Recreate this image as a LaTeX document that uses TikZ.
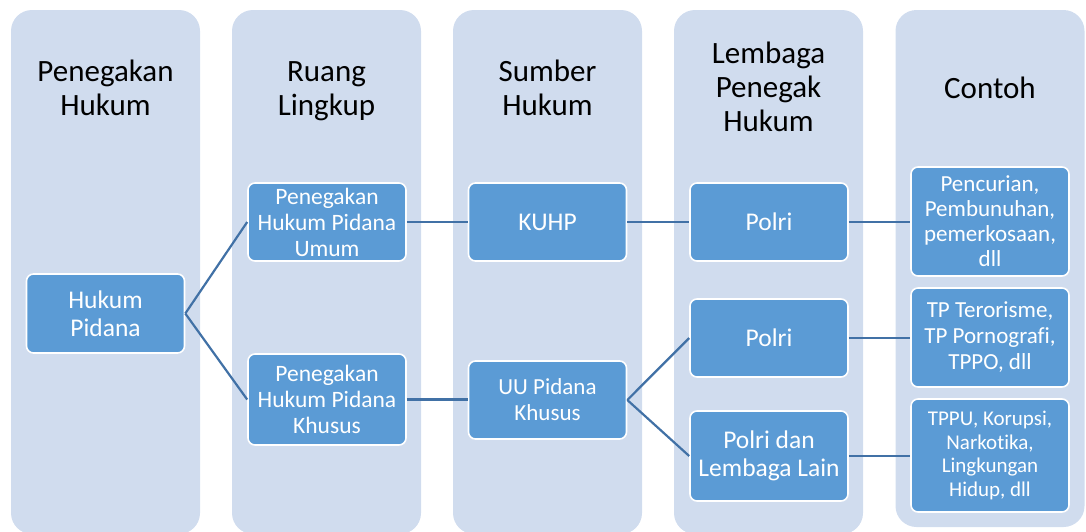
\documentclass[tikz,border=0pt]{standalone}
\usepackage{fontspec}
\setmainfont[Ligatures=NoCommon]{Carlito}
\usetikzlibrary{positioning}

\definecolor{colbg}{RGB}{208,220,238}
\definecolor{boxblue}{RGB}{91,155,213}
\definecolor{linkblue}{RGB}{65,113,166}

\begin{document}
\begin{tikzpicture}[x=1pt,y=-1pt,-,line width=2.2pt,
        column/.style={fill=colbg,rounded corners=21pt,minimum width=189pt,
          minimum height=524pt,inner sep=0pt},
        head/.style={align=center,anchor=base,font=\fontsize{31}{34}\selectfont},
        box/.style={draw=white,line width=1.6pt,fill=boxblue,rounded corners=7pt,
          text=white,align=center,minimum width=158pt,inner sep=1pt},
        link/.style={draw=linkblue,line width=2.2pt}]

  \useasboundingbox (0,0) rectangle (1086,531);

  % columns
  \node[column] (c_1) at (105.5,272) {};
  \node[column] (c_2) at (326.5,272) {};
  \node[column] (c_3) at (547.5,272) {};
  \node[column] (c_4) at (768.5,272) {};
  \node[column,minimum height=517pt] (c_5) at (990,268.5) {};

  % headers (base = last line)
  \node[head] (h_1) at (105.5,115) {Penegakan\\Hukum};
  \node[head] (h_2) at (326.5,115) {Ruang\\Lingkup};
  \node[head] (h_3) at (547.5,115) {Sumber\\Hukum};
  \node[head] (h_4) at (768.5,131) {Lembaga\\Penegak\\Hukum};
  \node[head] (h_5) at (990,98) {Contoh};

  % boxes
  \node[box,minimum height=79pt,font=\fontsize{25.5}{28}\selectfont]
    (hp) at (105.5,313.5) {Hukum\\Pidana};
  \node[box,minimum height=78pt,font=\fontsize{23.5}{26}\selectfont]
    (phu) at (327,222) {Penegakan\\Hukum Pidana\\Umum};
  \node[box,minimum height=91pt,font=\fontsize{23.5}{26}\selectfont]
    (phk) at (327,399.5) {Penegakan\\Hukum Pidana\\Khusus};
  \node[box,minimum height=78pt,font=\fontsize{25.5}{28}\selectfont]
    (kuhp) at (547.5,222) {KUHP};
  \node[box,minimum height=78pt,font=\fontsize{23}{26}\selectfont]
    (uu) at (547.5,400) {UU Pidana\\Khusus};
  \node[box,minimum height=78pt,font=\fontsize{25.5}{28}\selectfont]
    (polri_1) at (769,222) {Polri};
  \node[box,minimum height=78pt,font=\fontsize{25.5}{28}\selectfont]
    (polri_2) at (769,338) {Polri};
  \node[box,minimum height=90pt,font=\fontsize{25.5}{28}\selectfont]
    (polri_3) at (769,456) {Polri dan\\Lembaga Lain};
  \node[box,minimum height=109pt,font=\fontsize{23}{25}\selectfont]
    (ex_1) at (990,221.5) {Pencurian,\\Pembunuhan,\\pemerkosaan,\\dll};
  \node[box,minimum height=99pt,font=\fontsize{23}{26}\selectfont]
    (ex_2) at (990,337.5) {TP Terorisme,\\TP Pornografi,\\TPPO, dll};
  \node[box,minimum height=113pt,font=\fontsize{21}{23.5}\selectfont]
    (ex_3) at (990,455.5) {TPPU, Korupsi,\\Narkotika,\\Lingkungan\\Hidup, dll};

  % connectors
  \path[link] (hp.east) edge (phu.west)
              (hp.east) edge (phk.west)
              (phu) edge (kuhp)
              (phk.east) edge (phk.east -| uu.west)
              (kuhp) edge (polri_1)
              (uu.east) edge (polri_2.west)
              (uu.east) edge (polri_3.west)
              (polri_1) edge (ex_1.west |- polri_1)
              (polri_2) edge (ex_2.west |- polri_2)
              (polri_3) edge (ex_3.west |- polri_3);

\end{tikzpicture}
\end{document}
